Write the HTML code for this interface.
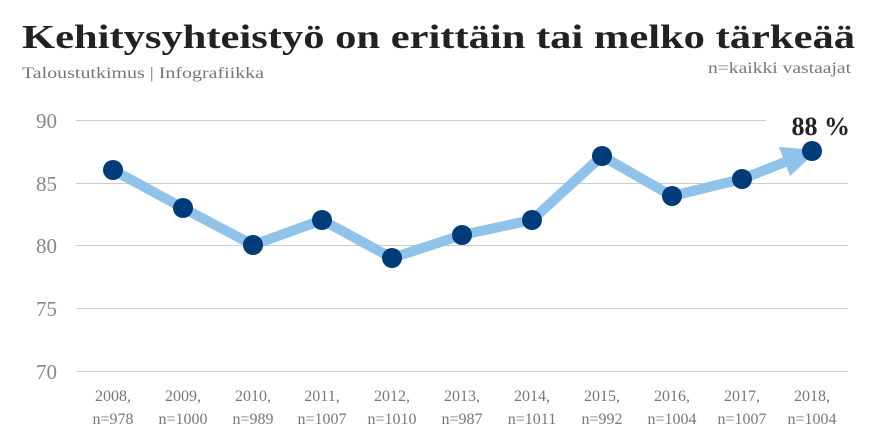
<!DOCTYPE html>
<html><head><meta charset="utf-8"><style>
html,body{margin:0;padding:0;background:#fff;width:880px;height:440px;overflow:hidden}
</style></head><body>
<svg width="880" height="440" xmlns="http://www.w3.org/2000/svg" font-family="Liberation Serif, serif">
<text x="22" y="48" font-size="34" font-weight="bold" fill="#222" textLength="833" lengthAdjust="spacingAndGlyphs">Kehitysyhteistyö on erittäin tai melko tärkeää</text>
<text x="22" y="78" font-size="16" fill="#777" textLength="242" lengthAdjust="spacingAndGlyphs">Taloustutkimus | Infografiikka</text>
<text x="851" y="73" font-size="16" fill="#777" text-anchor="end" textLength="143" lengthAdjust="spacingAndGlyphs">n=kaikki vastaajat</text>
<g stroke="#ccc" stroke-width="1">
<line x1="76" y1="120.5" x2="766" y2="120.5"/>
<line x1="76" y1="183.5" x2="848" y2="183.5"/>
<line x1="76" y1="245.5" x2="848" y2="245.5"/>
<line x1="76" y1="308.5" x2="848" y2="308.5"/>
<line x1="76" y1="371.5" x2="848" y2="371.5"/>
</g>
<g font-size="21" fill="#888" text-anchor="end">
<text x="57" y="128">90</text><text x="57" y="191">85</text><text x="57" y="253">80</text><text x="57" y="316">75</text><text x="57" y="379">70</text>
</g>
<polyline points="113,170 183,208 253,245 322,220 392,258 462,235 532,220 602,156 672,196 742,179 790,160" fill="none" stroke="#8fc3ea" stroke-width="10" stroke-linejoin="round"/>
<polygon points="818,150 779,147 790,176" fill="#8fc3ea"/>
<g fill="#003b7a">
<circle cx="113" cy="170" r="10"/><circle cx="183" cy="208" r="10"/><circle cx="253" cy="245" r="10"/><circle cx="322" cy="220" r="10"/><circle cx="392" cy="258" r="10"/><circle cx="462" cy="235" r="10"/><circle cx="532" cy="220" r="10"/><circle cx="602" cy="156" r="10"/><circle cx="672" cy="196" r="10"/><circle cx="742" cy="179" r="10"/><circle cx="812" cy="151" r="10"/>
</g>
<text x="850" y="135" font-size="26" font-weight="bold" fill="#222" text-anchor="end">88 %</text>
<g font-size="16" fill="#777" text-anchor="middle">
<text x="113" y="401">2008,</text><text x="113" y="424">n=978</text>
<text x="183" y="401">2009,</text><text x="183" y="424">n=1000</text>
<text x="253" y="401">2010,</text><text x="253" y="424">n=989</text>
<text x="322" y="401">2011,</text><text x="322" y="424">n=1007</text>
<text x="392" y="401">2012,</text><text x="392" y="424">n=1010</text>
<text x="462" y="401">2013,</text><text x="462" y="424">n=987</text>
<text x="532" y="401">2014,</text><text x="532" y="424">n=1011</text>
<text x="602" y="401">2015,</text><text x="602" y="424">n=992</text>
<text x="672" y="401">2016,</text><text x="672" y="424">n=1004</text>
<text x="742" y="401">2017,</text><text x="742" y="424">n=1007</text>
<text x="812" y="401">2018,</text><text x="812" y="424">n=1004</text>
</g>
</svg>
</body></html>
